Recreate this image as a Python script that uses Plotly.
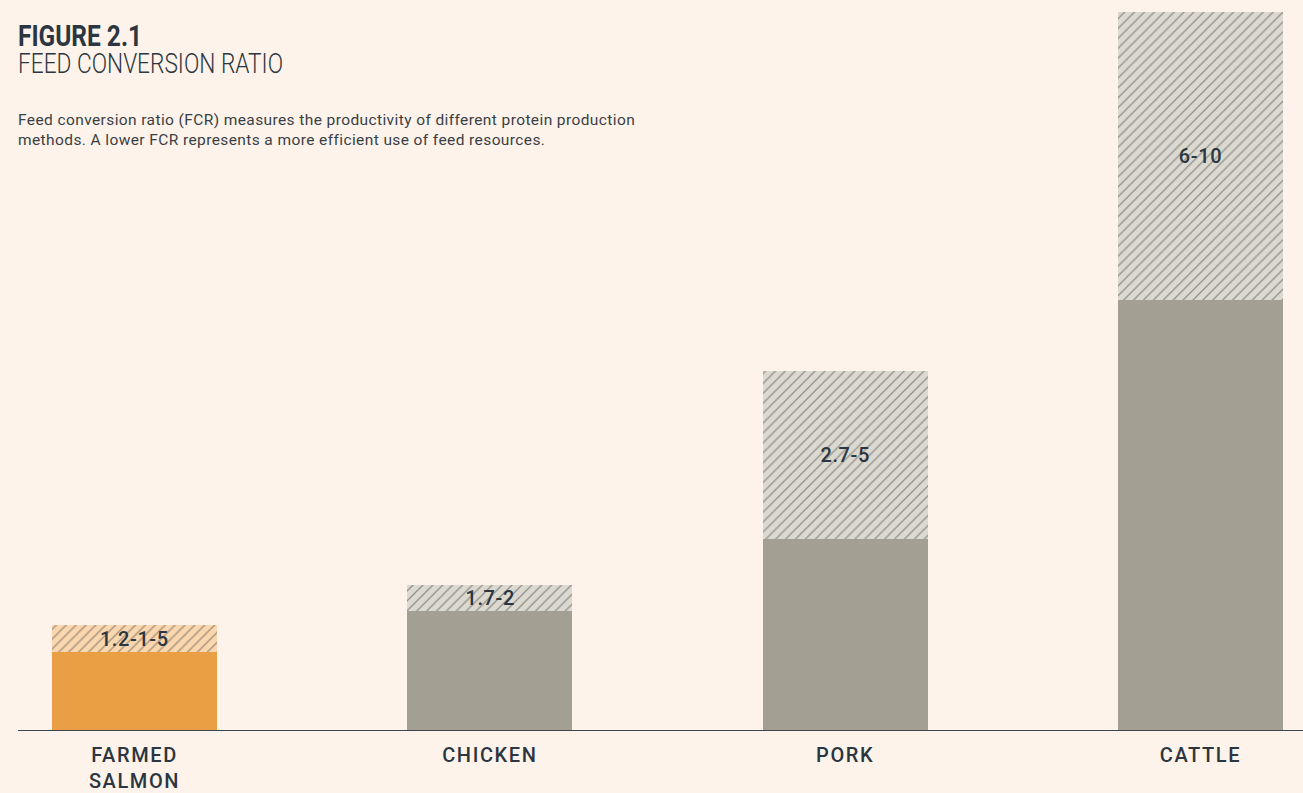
import plotly.graph_objects as go

categories = ["FARMED<br>SALMON", "CHICKEN", "PORK", "CATTLE"]
fcr_low = [1.1, 1.67, 2.67, 6.0]
fcr_high = [1.47, 2.03, 5.0, 10.0]
range_labels = ["1.2-1-5", "1.7-2", "2.7-5", "6-10"]

solid_colors = ["#eb9f45", "#a3a093", "#a3a093", "#a3a093"]
hatch_bg = ["#fad7ae", "#dcd9d1", "#dcd9d1", "#dcd9d1"]
hatch_fg = ["#f0a85a", "#b3b0a6", "#b3b0a6", "#b3b0a6"]

BG = "#fdf3ea"
DARK = "#2b3640"

xs = list(range(len(categories)))

fig = go.Figure()
fig.add_trace(go.Bar(
    x=xs, y=fcr_low, width=0.464,
    marker=dict(color=solid_colors, line=dict(width=0)),
    hoverinfo="skip", showlegend=False,
))
fig.add_trace(go.Bar(
    x=xs, y=[h - l for h, l in zip(fcr_high, fcr_low)], base=fcr_low, width=0.464,
    marker=dict(color=hatch_bg, line=dict(width=0),
                pattern=dict(shape="/", fgcolor=hatch_fg, bgcolor=hatch_bg,
                             size=7, solidity=0.18, fillmode="overlay")),
    hoverinfo="skip", showlegend=False,
))

for x, lo, hi, lab in zip(xs, fcr_low, fcr_high, range_labels):
    fig.add_annotation(x=x, y=(lo + hi) / 2, text=lab, showarrow=False,
                       font=dict(family="Roboto", size=20, color=DARK, weight=500),
                       xref="x", yref="y", yanchor="middle")

fig.add_annotation(xref="paper", yref="paper", x=0, y=1, xanchor="left", yanchor="top",
                   text="<span style='font-size:30px;font-weight:bold'>FIGURE 2.1</span><br>"
                        "<span style='font-size:28px;font-weight:300'>FEED CONVERSION RATIO</span>",
                   showarrow=False, align="left",
                   font=dict(family="Roboto", size=21, color=DARK), yshift=-16, xshift=-2)
fig.add_annotation(xref="paper", yref="paper", x=0, y=1, xanchor="left", yanchor="top",
                   text="Feed conversion ratio (FCR) measures the productivity of different protein production<br>methods. A lower FCR represents a more efficient use of feed resources.",
                   align="left", showarrow=False,
                   font=dict(family="Roboto", size=15.5, color="#3a3f45"), yshift=-109, xshift=-2)

fig.update_layout(
    width=1303, height=793,
    margin=dict(l=18, r=0, t=0, b=59),
    paper_bgcolor=BG, plot_bgcolor=BG,
    barmode="overlay", bargap=0,
    xaxis=dict(range=[-0.3279, 3.2885], tickvals=xs, ticktext=categories,
               showgrid=False, zeroline=False, showline=False,
               tickfont=dict(family="Roboto", size=20, color=DARK, weight=500),
               ticks="", ticklabelstandoff=10),
    yaxis=dict(range=[0, 10.1667], visible=False, showgrid=False, zeroline=False),
    shapes=[dict(type="line", xref="paper", yref="y", x0=0, x1=1, y0=0, y1=0,
                 line=dict(color="#3d444b", width=2))],
)

post_js = """
document.body.style.margin='0px';
document.body.style.background='#fdf3ea';
function fixText(){
  document.querySelectorAll('.xtick text').forEach(function(t){t.style.letterSpacing='1.6px';});
  document.querySelectorAll('.annotation-text').forEach(function(t){
    var s=t.textContent;
    if(s.indexOf('FIGURE')===0){
      t.querySelectorAll('tspan').forEach(function(sp){
        if(sp.textContent==='FIGURE 2.1'&&!sp.classList.contains('line')){sp.setAttribute('textLength','124');sp.setAttribute('lengthAdjust','spacingAndGlyphs');}
        if(sp.textContent==='FEED CONVERSION RATIO'&&!sp.classList.contains('line')){sp.setAttribute('textLength','265');sp.setAttribute('lengthAdjust','spacingAndGlyphs');}
      });
    }
    else if(s.indexOf('Feed conversion')===0){t.style.letterSpacing='0.4px';}
    else {t.style.letterSpacing='0.6px';}
  });
}
fixText();
"""

fig.write_html("out.html", post_script=post_js, config={"displayModeBar": False})
